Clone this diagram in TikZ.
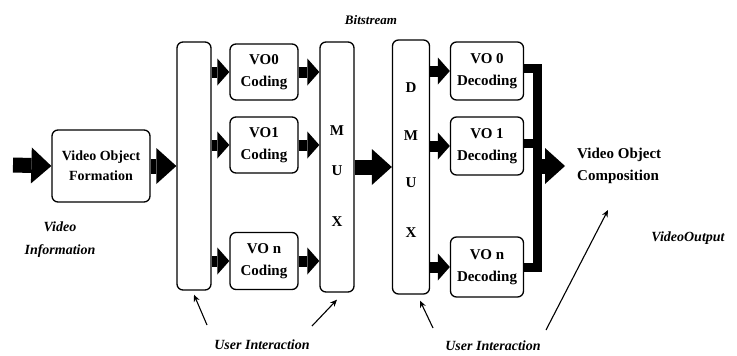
\documentclass[tikz,border=0pt]{standalone}
\usepackage{fontspec}
\setmainfont{Liberation Serif}
\usetikzlibrary{arrows.meta}

\begin{document}
\begin{tikzpicture}[x=1pt,y=-1pt,
  box/.style={draw,line width=1.3pt,rounded corners=6pt,inner sep=0pt,align=center,
              font=\bfseries\fontsize{15}{22}\selectfont},
  lbl/.style={font=\bfseries\itshape\fontsize{14}{23}\selectfont,inner sep=0pt,align=center},
  letter/.style={font=\bfseries\fontsize{15}{17}\selectfont,inner sep=0pt},
  fat/.style={line width=15pt,-{Triangle[width=36pt,length=20pt,line width=0pt]}},
  medarrow/.style={line width=11pt,-{Triangle[width=27pt,length=12pt,line width=0pt]}},
  bus/.style={line width=9pt,line join=miter},
  pointer/.style={line width=1.1pt,-{Stealth[length=7pt,width=6pt]}}]

\useasboundingbox (0,0) rectangle (737,356);

% ---- encoder side ----
\node[box,minimum width=98pt,minimum height=72pt,font=\bfseries\fontsize{14}{20}\selectfont]
  (form) at (101,166) {Video Object\\Formation};
\node[box,minimum width=34pt,minimum height=248pt] (split) at (194,166) {};
\node[box,minimum width=68pt,minimum height=56pt] (c0) at (264,72) {VO0\\Coding};
\node[box,minimum width=68pt,minimum height=56pt] (c1) at (264,145) {VO1\\Coding};
\node[box,minimum width=68pt,minimum height=57pt] (cn) at (264,261) {VO n\\Coding};
\node[box,minimum width=34pt,minimum height=250pt] (mux) at (337,167) {};
\node[letter] (muxM) at (337,131) {M};
\node[letter] (muxU) at (337,171) {U};
\node[letter] (muxX) at (337,222) {X};

% ---- decoder side ----
\node[box,minimum width=37pt,minimum height=254pt] (dmux) at (411,167) {};
\node[letter] (dmuxD) at (411,88) {D};
\node[letter] (dmuxM) at (411,136) {M};
\node[letter] (dmuxU) at (411,183) {U};
\node[letter] (dmuxX) at (411,233) {X};
\node[box,minimum width=73pt,minimum height=58pt] (d0) at (487,71) {VO 0\\Decoding};
\node[box,minimum width=73pt,minimum height=58pt] (d1) at (487,146) {VO 1\\Decoding};
\node[box,minimum width=73pt,minimum height=60pt] (dn) at (487,267) {VO n\\Decoding};
\node[font=\bfseries\fontsize{15}{22}\selectfont,inner sep=0pt,align=left,anchor=west]
  (comp) at (577,166) {Video Object\\Composition};

% ---- free labels ----
\node[lbl,font=\bfseries\itshape\fontsize{13}{16}\selectfont] (bits) at (371,20) {Bitstream};
\node[lbl] (vinfo) at (60,240) {Video\\Information};
\node[lbl] (vout) at (688,238) {VideoOutput};
\node[lbl] (ui1) at (262,345) {User Interaction};
\node[lbl] (ui2) at (493,346) {User Interaction};

% ---- data flow ----
\coordinate (src) at (13,165);
\draw[fat] (src) -- (form.west);
\draw[fat] (form.east) -- (form.east -| split.west);
\foreach \c in {c0,c1,cn}{
  \draw[medarrow] (\c.west -| split.east) -- (\c.west);
  \draw[medarrow] (\c.east) -- (\c.east -| mux.west);
}
\draw[fat] (mux.east) -- (dmux.west);
\foreach \d in {d0,d1,dn}{
  \draw[medarrow] (\d.west -| dmux.east) -- (\d.west);
}
\coordinate (bus) at (537,166);
\draw[bus] ([yshift=3pt]d0.east) -| (bus);
\draw[bus] ([yshift=3pt]d1.east) -- ([yshift=3pt]d1.east -| bus);
\draw[bus] (dn.east) -| (bus);
\draw[fat,shorten >=12pt] ([xshift=-4pt]bus) -- (bus -| comp.west);

% ---- user interaction pointers ----
\coordinate (t1) at (207,325);
\coordinate (t2) at (312,326);
\coordinate (t3) at (433,328);
\coordinate (t4) at (546,330);
\coordinate (h4) at (608,210);
\draw[pointer] (t1) -- ([yshift=-4pt]split.south);
\draw[pointer] (t2) -- ([yshift=-7pt]mux.south);
\draw[pointer] (t3) -- ([xshift=9pt,yshift=-6pt]dmux.south);
\draw[pointer] (t4) -- (h4);
\end{tikzpicture}
\end{document}
